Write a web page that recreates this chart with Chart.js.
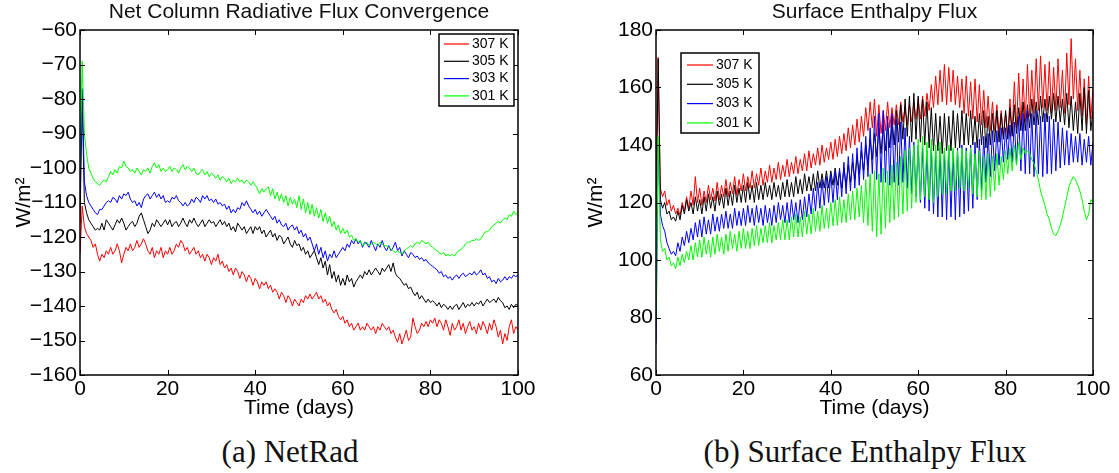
<!DOCTYPE html>
<html>
<head>
<meta charset="utf-8">
<script src="https://cdn.jsdelivr.net/npm/chart.js@4.4.1/dist/chart.umd.min.js"></script>
<style>
  body { margin: 0; background: #fff; width: 1119px; height: 473px; position: relative; overflow: hidden; }
  .panel { position: absolute; top: 0; height: 425px; }
  .cap { position: absolute; top: 434px; line-height: 36px; font-family: "Liberation Serif", serif; font-size: 31px; color: #111; white-space: nowrap; transform: translateX(-50%); }
</style>
</head>
<body>
<div class="panel" style="left:0;width:560px"><canvas id="netrad"></canvas></div>
<div class="panel" style="left:560px;width:559px"><canvas id="enthalpy"></canvas></div>
<div class="cap" style="left:290px">(a) NetRad</div>
<div class="cap" style="left:865px">(b) Surface Enthalpy Flux</div>
<script>
// samples every half day, day 0 .. 100
const STEP = 0.5
const labels = ['307 K', '305 K', '303 K', '301 K']
const colors = ['#ff0000', '#000000', '#0000ff', '#00ff00']

// (a) net column radiative flux convergence, W/m2
const netRad307 = [
  -125, -111, -117, -119, -120, -121, -123, -122, -125, -127, -125, -126, -124, -125, -123, -125, -124, -122, -124, -127.5,
  -125, -123, -124, -122, -124, -123, -121, -123, -122, -120.5, -122, -124, -125, -123, -126, -124, -125, -123, -126, -124,
  -125, -123, -125, -124, -122, -123, -121, -122, -124, -123, -125, -124, -123, -125, -124, -126, -125, -127, -125, -126,
  -128, -126, -127, -125, -128, -127, -129, -128, -130, -129, -131, -129, -130, -132, -130, -131, -133, -131, -132, -134,
  -132, -133, -135, -133, -134, -133, -135, -134, -136, -135, -136, -138, -136, -137, -139, -137, -138, -140, -138, -139,
  -140, -138, -139, -137, -138, -136.5, -138, -137, -136, -138, -137, -139, -138, -140, -139, -141, -142, -141, -143, -144,
  -143, -145, -144, -146, -145, -147, -146, -145, -147, -146, -147, -145, -146, -147, -146, -148, -146, -147, -145, -146,
  -147, -146, -148, -147, -149, -150.5, -148, -151, -149, -147, -150, -149, -143.5, -146, -148, -147, -145, -146, -144.5, -146,
  -144, -145, -143.5, -146, -144, -145, -147, -144, -146, -148.5, -145, -147, -146, -144, -147, -145, -148, -146, -144.5, -147,
  -146, -148, -145, -147, -144.5, -146, -148, -145, -147, -144, -146, -149, -147, -151, -148, -150, -146, -144, -148, -146,
  -147
]
const netRad305 = [
  -116, -79, -110, -113, -115, -116, -117, -118, -117.5, -118, -116, -118, -115, -116, -117, -118, -116.5, -115, -116, -114.5,
  -116, -118, -117, -116, -115.5, -117, -116, -114, -113, -115, -117, -119, -118, -116, -117, -115, -116, -117, -116, -115,
  -116.5, -115, -117, -116, -115.5, -117, -116, -114.5, -116, -117, -115, -116, -114.5, -116, -117, -116, -115, -117, -116, -115,
  -116, -115.5, -117, -116, -115, -116.5, -115.5, -117, -116, -118, -117, -118.5, -116, -117, -118, -117, -119, -118, -117, -119,
  -117, -118, -117, -119, -118, -120, -119, -118, -120, -119, -121, -119.5, -120, -122, -121, -120, -122, -123, -121, -122.5,
  -122, -124, -123, -125, -124, -126, -125, -124, -126, -128, -126, -129, -127, -131, -128, -132, -130, -133, -131, -134,
  -132, -134, -131, -133, -132, -134.5, -133, -132, -131, -132, -130, -131, -129.5, -131, -130, -129, -130, -131, -129, -130,
  -129, -128, -130, -127.5, -130.5, -131.5, -132, -133, -134, -133.5, -135, -134.5, -136, -137, -136, -138, -137, -138, -139, -138,
  -139, -138.5, -139, -140, -139, -140.5, -139.5, -140, -141, -140, -141, -140, -139.5, -141, -140, -139, -140.5, -139.5, -140, -139,
  -140, -139, -139.5, -138.5, -140, -139, -138, -139, -138.5, -138, -139, -137.5, -138.5, -139, -140.5, -140, -141, -139.5, -140.5, -139.5,
  -140
]
const netRad303 = [
  -108, -77, -104, -108, -110, -111, -112, -113, -113.5, -112, -112, -111, -110, -109.5, -110, -108.5, -109, -110, -108, -109,
  -107.5, -108, -107, -109, -110, -109.5, -111, -110, -111.5, -109, -108, -107.5, -109, -108, -107, -108.5, -107.5, -109, -108, -110,
  -109.5, -110, -108.5, -109, -108, -109.5, -110, -111, -110, -111, -110.5, -109, -110, -108.5, -109, -110, -108, -109, -108, -109.5,
  -109, -110, -109, -110.5, -110, -111, -110.5, -112, -111, -113, -112, -113, -111.5, -112, -110, -111, -109.5, -111, -112, -113,
  -112, -113.5, -112.5, -114, -113, -112, -113, -114, -115, -114, -116, -115, -116.5, -117, -116, -118, -117, -116.5, -118, -117,
  -119, -118, -120, -119, -121, -120, -122, -124, -122, -125, -123, -126, -124, -127, -125, -126, -124, -126, -125, -124,
  -123, -124, -122, -123, -121, -122, -120.5, -122, -121, -123, -121.5, -122, -123, -121, -122.5, -124, -122, -123, -121, -123,
  -124, -122.5, -124, -123, -121.5, -124, -123, -125.5, -124, -125, -126, -124.5, -125, -126, -125.5, -126.5, -126, -127, -126.5, -127.5,
  -128, -128.5, -129, -129.5, -130.5, -130, -131.5, -131, -132, -131.5, -132.5, -131.5, -131, -132, -131, -130.5, -131.5, -131, -130.5, -131,
  -130, -131, -130.5, -129.5, -131, -130.5, -132, -131.5, -133, -132.5, -133.5, -132, -133, -132.5, -131.5, -132.5, -131.5, -132, -131, -131.5,
  -131
]
const netRad301 = [
  -100, -69, -90, -96, -100, -101.5, -103, -104, -104.5, -105, -104, -103.5, -104, -102.5, -101, -102, -100.5, -101.5, -99.5, -100,
  -98, -99.5, -100, -101, -100.5, -101.5, -100, -101, -102, -100.5, -101, -100, -101.5, -99.5, -98.5, -100, -99, -101, -100, -101,
  -100.5, -99.5, -101, -100, -100.5, -101.5, -100, -99, -100.5, -99.5, -100, -101, -100, -101.5, -102, -101, -100.5, -102, -101, -102.5,
  -101.5, -102, -103, -102, -103.5, -102.5, -103, -104, -103, -104.5, -103.5, -104, -103, -104, -103.5, -104.5, -103.5, -104, -105, -104,
  -105, -106, -107.5, -106, -107, -106, -105.5, -108, -106, -109, -107, -109.5, -107.5, -110, -108, -111, -108.5, -110.5, -109, -111.5,
  -108, -112, -109, -113, -110, -113.5, -110.5, -114, -111.5, -114.5, -112, -115.5, -113, -116, -114, -117, -115.5, -118, -116.5, -119,
  -117.5, -119, -118, -120, -119.5, -121, -120.5, -121.5, -121, -122.5, -122, -121.5, -122.5, -122, -121.5, -122, -122.5, -121.5, -122, -122.5,
  -122.5, -123, -123.5, -124, -124.5, -124, -124.5, -125, -124, -123.5, -123, -122.5, -123, -122, -121.5, -122, -121, -121.5, -122, -121.5,
  -122.5, -123, -123.5, -124, -124.5, -125, -124.5, -125.5, -125, -125.5, -125, -125.5, -124.5, -124, -123.5, -123, -122, -121.5, -121.5, -121,
  -121, -120.5, -121, -120.5, -119.5, -118.5, -118.5, -118, -117, -116.5, -116, -115.5, -116, -115, -114.5, -115, -113.5, -114, -112.5, -113.5,
  -113
]

// (b) surface enthalpy flux, W/m2
const flux307 = [
  118, 170.5, 125, 122, 124, 119, 121, 117, 119, 116, 118, 115.5, 120, 117, 122, 118, 124, 119, 129, 120,
  125, 119, 124, 120, 126, 121, 125, 120.5, 127, 121, 126, 122, 128, 122, 127, 123, 129, 122.5, 128, 124,
  130, 124, 129, 125, 131, 125, 130, 126, 132, 126, 131, 127, 133, 127, 132, 128, 134, 128, 133, 129,
  135, 129, 134, 130, 136, 130, 135, 131, 137, 131, 138, 132, 137, 133, 139, 133, 140, 134, 139, 135,
  141, 135, 142, 136, 143, 137, 144, 138, 146, 139, 147, 140, 149, 141, 150, 143, 153, 145, 155, 146,
  156, 143, 154, 144, 152, 145, 155, 146, 153, 147, 154, 147, 155, 148, 153, 147, 154, 148, 155, 149,
  156, 149, 157, 150, 158, 152, 161, 153, 164, 154, 166, 155, 168, 154, 167, 155, 166, 154, 164, 153,
  163, 151, 164, 150, 162, 149, 163, 148, 161, 147, 159, 146, 157, 145, 155, 145, 154, 144, 152, 143,
  151, 143, 156, 144, 162, 146, 165, 147, 163, 148, 168, 150, 166, 151, 170, 152, 171, 153, 168, 152,
  169, 151, 167, 152, 170, 153, 166, 151, 172, 154, 177, 156, 170, 152, 166, 150, 163, 147, 164, 149,
  160
]
const flux305 = [
  115, 170, 121, 118, 120, 116, 117, 114, 115, 113.5, 117, 114, 119, 116, 121, 117, 120, 116, 122, 117,
  121, 116, 122, 117, 123, 118, 122, 117, 124, 119, 123, 118, 125, 119, 124, 119, 126, 120, 125, 120,
  126, 120, 127, 121, 126, 120, 127, 121, 126, 121, 127, 122, 126, 121, 127, 122, 126, 121, 127, 122,
  128, 122, 127, 122, 129, 123, 128, 123, 130, 124, 129, 124, 130, 124, 131, 125, 130, 125, 131, 125,
  131, 126, 132, 126, 131, 125, 132, 126, 133, 127, 134, 128, 136, 130, 138, 131, 140, 133, 142, 135,
  144, 136, 146, 137, 147, 138, 148, 139, 150, 140, 152, 141, 154, 142, 156, 143, 157, 141, 158, 142,
  157, 141, 156, 140, 155, 139, 153, 138, 151, 138, 150, 137, 151, 138, 150, 138, 152, 139, 151, 139,
  152, 140, 151, 140, 152, 140, 150, 139, 151, 140, 152, 139, 150, 140, 151, 141, 152, 141, 151, 142,
  152, 142, 153, 143, 154, 144, 153, 145, 155, 145, 154, 146, 156, 147, 155, 147, 157, 148, 156, 148,
  157, 149, 158, 148, 157, 148, 156, 147, 158, 146, 157, 145, 155, 144, 158, 145, 160, 144, 159, 145,
  152
]
const flux303 = [
  71, 140, 116, 112, 110, 106, 104, 102, 103, 101.5, 106, 103, 108, 105, 110, 106, 111, 107, 113, 108,
  114, 108, 115, 109, 114, 109, 116, 110, 115, 110, 116, 111, 117, 111, 116, 111, 118, 112, 117, 112,
  118, 112, 119, 113, 118, 112, 119, 113, 118, 112, 119, 113, 118, 112, 119, 113, 120, 114, 119, 113,
  120, 113, 121, 114, 120, 113, 121, 114, 122, 115, 123, 116, 125, 117, 127, 118, 128, 119, 129, 120,
  130, 120, 131, 121, 132, 122, 134, 123, 136, 124, 137, 125, 139, 126, 141, 128, 143, 129, 146, 130,
  150, 128, 151, 127, 152, 127, 150, 126, 151, 127, 149, 126, 148, 127, 146, 125, 143, 123, 141, 122,
  140, 120, 139, 118, 138, 117, 139, 116, 138, 115, 139, 115, 138, 114, 139, 115, 138, 114, 139, 115,
  140, 116, 139, 117, 140, 118, 141, 121, 142, 124, 143, 127, 144, 129, 145, 131, 145, 133, 146, 134,
  146, 135, 147, 134, 148, 133, 150, 131, 151, 130, 152, 130, 151, 129, 152, 130, 150, 129, 151, 130,
  150, 130, 149, 131, 148, 132, 146, 133, 145, 133, 144, 134, 143, 134, 144, 133, 142, 134, 143, 133,
  141
]
const flux301 = [
  80, 143, 107, 103, 104, 100, 101, 98, 99, 97, 101, 98, 102, 99, 103, 100, 105, 100, 106, 101,
  107, 101, 108, 102, 107, 101, 108, 102, 109, 103, 108, 102, 109, 103, 110, 104, 109, 103, 110, 104,
  111, 104, 110, 104, 111, 105, 112, 105, 111, 106, 112, 106, 113, 106, 112, 107, 113, 107, 114, 107,
  114, 107, 115, 108, 116, 108, 115, 108, 117, 109, 116, 109, 118, 110, 117, 110, 119, 111, 118, 111,
  120, 112, 121, 112, 122, 113, 121, 113, 123, 114, 124, 114, 125, 115, 126, 113, 128, 112, 130, 110,
  131, 108, 130, 109, 132, 111, 131, 113, 133, 114, 134, 115, 136, 116, 138, 117, 139, 118, 140, 120,
  142, 121, 143, 122, 141, 121, 142, 120, 140, 122, 141, 123, 139, 123, 140, 124, 139, 124, 138, 125,
  139, 124, 138, 125, 139, 123, 137, 122, 138, 121, 136, 121, 137, 122, 136, 124, 137, 126, 136, 128,
  138, 130, 139, 131, 140, 133, 141, 135, 139, 137, 138, 137, 135, 133.5, 131, 128, 124, 121.5, 119, 116,
  114, 111, 109, 108.5, 110, 112, 115, 118.5, 122, 125.5, 127.5, 129, 128, 126, 124, 121, 117, 114, 116, 121,
  120
]

const FONT = '"Liberation Sans", Arial, sans-serif'
const TICK = 5

const toPoints = (vals) => vals.map((v, i) => ({ x: i * STEP, y: v }))

// matlab style: full box, inward ticks on four sides, legend inside the axes
const frame = {
    id: 'frame',
    afterDatasetsDraw(chart, args, opts) {
        const { ctx, chartArea: a, scales } = chart
        ctx.save()
        ctx.strokeStyle = '#000'
        ctx.lineWidth = 1
        ctx.beginPath()
        scales.x.ticks.forEach((t) => {
            const px = Math.round(scales.x.getPixelForValue(t.value)) + 0.5
            ctx.moveTo(px, a.bottom); ctx.lineTo(px, a.bottom - TICK)
            ctx.moveTo(px, a.top); ctx.lineTo(px, a.top + TICK)
        })
        scales.y.ticks.forEach((t) => {
            const py = Math.round(scales.y.getPixelForValue(t.value)) + 0.5
            ctx.moveTo(a.left, py); ctx.lineTo(a.left + TICK, py)
            ctx.moveTo(a.right, py); ctx.lineTo(a.right - TICK, py)
        })
        ctx.stroke()
        ctx.lineWidth = 1.5
        ctx.strokeRect(a.left, a.top, a.right - a.left, a.bottom - a.top)

        const L = opts.legend
        ctx.fillStyle = '#fff'
        ctx.fillRect(L.x, L.y, L.w, L.h)
        ctx.lineWidth = 1.5
        ctx.strokeRect(L.x, L.y, L.w, L.h)
        ctx.font = '14px ' + FONT
        ctx.textBaseline = 'middle'
        chart.data.datasets.forEach((ds, i) => {
            const y = L.y + L.first + i * L.row
            ctx.strokeStyle = ds.borderColor
            ctx.lineWidth = 1.2
            ctx.beginPath()
            ctx.moveTo(L.x + L.line0, y)
            ctx.lineTo(L.x + L.line1, y)
            ctx.stroke()
            ctx.fillStyle = '#000'
            ctx.fillText(ds.label, L.x + L.text, y)
        })
        ctx.restore()
    }
}

const makeChart = (id, title, series, yMin, yMax, yStep, yWidth, yTitlePad, padRight, legend) =>
    new Chart(document.getElementById(id), {
        type: 'line',
        data: {
            datasets: series.map((vals, i) => ({
                label: labels[i],
                data: toPoints(vals),
                borderColor: colors[i],
                borderWidth: 1,
                pointRadius: 0,
                tension: 0,
                order: 4 - i
            }))
        },
        plugins: [frame],
        options: {
            responsive: true,
            maintainAspectRatio: false,
            devicePixelRatio: 1,
            animation: false,
            events: [],
            layout: { padding: { left: 0, right: padRight, top: 0, bottom: 0 } },
            plugins: {
                legend: { display: false },
                tooltip: { enabled: false },
                title: {
                    display: true,
                    text: title,
                    fullSize: false,
                    color: '#111',
                    font: { family: FONT, size: 21, weight: 'normal' },
                    padding: { top: 0, bottom: 4.8 }
                },
                frame: { legend }
            },
            scales: {
                x: {
                    type: 'linear',
                    min: 0,
                    max: 100,
                    afterFit: (s) => { s.height = 50 },
                    grid: { display: false, drawTicks: false },
                    border: { display: false },
                    ticks: { stepSize: 20, color: '#000', padding: 2, maxRotation: 0, font: { family: FONT, size: 21 } },
                    title: { display: true, text: 'Time (days)', color: '#000', padding: { top: 0, bottom: 4.5 }, font: { family: FONT, size: 21 } }
                },
                y: {
                    min: yMin,
                    max: yMax,
                    afterFit: (s) => { s.width = yWidth },
                    grid: { display: false, drawTicks: false },
                    border: { display: false },
                    ticks: {
                        stepSize: yStep,
                        color: '#000',
                        padding: 3,
                        font: { family: FONT, size: 21 },
                        callback: (v) => String(v).replace('-', '\u2212')
                    },
                    title: { display: true, text: 'W/m\u00b2', color: '#000', padding: { top: yTitlePad, bottom: 0 }, font: { family: FONT, size: 21 } }
                }
            }
        }
    })

makeChart('netrad', 'Net Column Radiative Flux Convergence',
    [netRad307, netRad305, netRad303, netRad301], -160, -60, 10, 80, 11.4, 42,
    { x: 439, y: 34, w: 75, h: 72, first: 10, row: 17.3, line0: 5, line1: 30, text: 33 })

makeChart('enthalpy', 'Surface Enthalpy Flux',
    [flux307, flux305, flux303, flux301], 60, 180, 20, 96, 23.4, 26,
    { x: 121, y: 53, w: 78, h: 80, first: 12, row: 19.3, line0: 6, line1: 32, text: 35 })
</script>
</body>
</html>
